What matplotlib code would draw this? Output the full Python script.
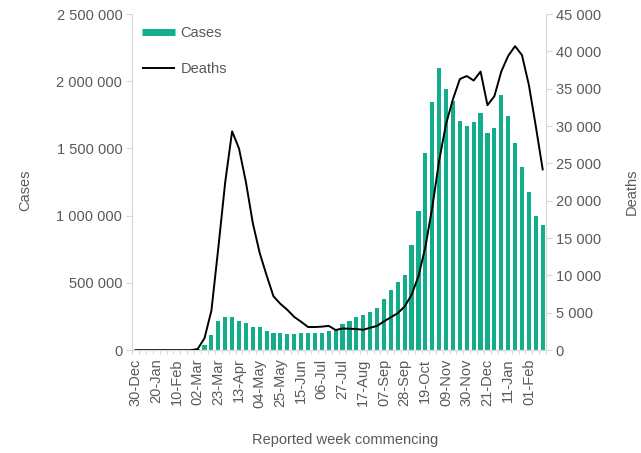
import numpy as np
import matplotlib
matplotlib.use("Agg")
import matplotlib.pyplot as plt
from matplotlib.lines import Line2D
from matplotlib.ticker import FuncFormatter, FixedLocator

# CONFIG
BAR_COLOR  = "#12AE8C"
LINE_COLOR = "#000000"
TEXT_COLOR = "#595959"
AXIS_COLOR = "#D9D9D9"
plt.rcParams["font.family"] = ["Liberation Sans Narrow", "Liberation Sans", "DejaVu Sans"]

# DATA (weekly, 30-Dec-2019 to 15-Feb-2021)
tick_labels = ["30-Dec", "20-Jan", "10-Feb", "02-Mar", "23-Mar", "13-Apr", "04-May",
               "25-May", "15-Jun", "06-Jul", "27-Jul", "17-Aug", "07-Sep", "28-Sep",
               "19-Oct", "09-Nov", "30-Nov", "21-Dec", "11-Jan", "01-Feb"]

cases = [0, 0, 0, 0, 0, 0, 0, 0, 0, 5000,
         37000, 112000, 216000, 249000, 245000, 219000, 199000, 169000, 169000, 144000,
         129000, 124000, 117000, 117000, 124000, 124000, 129000, 127000, 140000, 149000,
         192000, 219000, 244000, 259000, 286000, 316000, 378000, 448000, 510000, 560000,
         784000, 1032000, 1468000, 1846000, 2095000, 1940000, 1853000, 1704000, 1667000, 1697000,
         1761000, 1612000, 1652000, 1896000, 1741000, 1543000, 1363000, 1174000, 1000000, 933000]

deaths = [0, 0, 0, 0, 0, 0, 0, 0, 0, 150,
          1600, 5300, 13700, 22500, 29300, 27000, 22500, 17000, 13000, 10000,
          7200, 6200, 5400, 4450, 3800, 3100, 3100, 3150, 3250, 2700,
          2900, 2870, 2830, 2730, 3000, 3250, 3850, 4400, 4950, 5850,
          7400, 9900, 13800, 19100, 25400, 30300, 33600, 36300, 36700, 36100,
          37300, 32800, 34000, 37300, 39400, 40700, 39500, 35500, 30000, 24200]

weeks = np.arange(len(cases))

# PLOT
fig = plt.figure(figsize=(6.41, 4.53), dpi=100)
ax = fig.add_axes([0.206, 0.227, 0.646, 0.742])
ax2 = ax.twinx()

ax.bar(weeks, cases, width=0.6, color=BAR_COLOR, zorder=2)
ax2.plot(weeks, deaths, color=LINE_COLOR, linewidth=1.4, zorder=3)

ax.set_xlim(-0.5, len(cases) - 0.5)
ax.set_ylim(0, 2500000)
ax2.set_ylim(0, 45000)
ax.set_yticks(np.arange(0, 2500001, 500000))
ax2.set_yticks(np.arange(0, 45001, 5000))

fmt = FuncFormatter(lambda v, _: f"{v:,.0f}".replace(",", " "))
ax.yaxis.set_major_formatter(fmt)
ax2.yaxis.set_major_formatter(fmt)

ax.xaxis.set_major_locator(FixedLocator(weeks[::3]))
ax.set_xticklabels(tick_labels, rotation=90)
ax.xaxis.set_minor_locator(FixedLocator(np.arange(-0.5, len(cases), 1)))

for a in (ax, ax2):
    a.spines["top"].set_visible(False)
    for side in ("left", "right", "bottom"):
        a.spines[side].set_color(AXIS_COLOR)
    a.tick_params(axis="y", colors=AXIS_COLOR, labelcolor=TEXT_COLOR,
                  labelsize=10.5, length=4, width=0.8, pad=3)
ax.tick_params(axis="x", which="major", length=0, labelcolor=TEXT_COLOR,
               labelsize=10.5, pad=6)
ax.tick_params(axis="x", which="minor", length=3, color=AXIS_COLOR, width=0.8)

fig.text(0.039, 0.58, "Cases", rotation=90, ha="center", va="center",
         color=TEXT_COLOR, fontsize=10.5)
fig.text(0.985, 0.576, "Deaths", rotation=90, ha="center", va="center",
         color=TEXT_COLOR, fontsize=10.5)
fig.text(0.538, 0.029, "Reported week commencing", ha="center", va="center",
         color=TEXT_COLOR, fontsize=10.5)

handles = [Line2D([0], [0], color=BAR_COLOR, linewidth=5, solid_capstyle="butt"),
           Line2D([0], [0], color=LINE_COLOR, linewidth=1.4, solid_capstyle="butt")]
leg = ax.legend(handles, ["Cases", "Deaths"], loc="upper left",
                bbox_to_anchor=(-0.008, 1.003), frameon=False, fontsize=10.5,
                handlelength=2.3, handletextpad=0.35, labelspacing=1.5)
for t in leg.get_texts():
    t.set_color(TEXT_COLOR)

fig.savefig("out.png", dpi=100)
